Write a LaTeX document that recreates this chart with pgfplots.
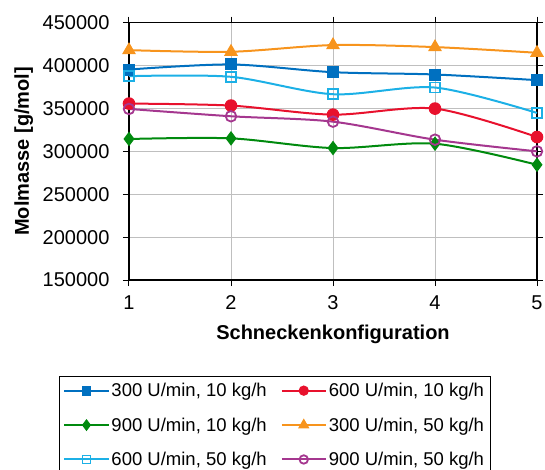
\documentclass[border=0pt]{standalone}
\usepackage{pgfplots}
\pgfplotsset{compat=1.18}
\usepackage{fontspec}
\setmainfont{Liberation Sans}
\definecolor{cDB}{HTML}{0070C0}
\definecolor{cRD}{HTML}{E8112D}
\definecolor{cGN}{HTML}{008A0E}
\definecolor{cOR}{HTML}{F7941D}
\definecolor{cLB}{HTML}{1CB0E6}
\definecolor{cPU}{HTML}{A5378F}
\begin{document}
\begin{tikzpicture}[x=1pt,y=1pt]
\begin{axis}[
  scale only axis, width=408pt, height=257.3pt,
  xmin=1, xmax=5, ymin=150000, ymax=450000,
  xtick={1,2,3,4,5},
  ytick={150000,200000,250000,300000,350000,400000,450000},
  scaled y ticks=false,
  /pgf/number format/assume math mode=true,
  yticklabel style={/pgf/number format/fixed, /pgf/number format/1000 sep={}, xshift=-10pt},
  xticklabel style={yshift=-6pt},
  tick label style={font=\fontsize{20}{24}\selectfont, black},
  grid=major, major grid style={black!25, line width=0.8pt},
  axis line style={line width=1.6pt},
  tick style={black, line width=1pt},
  tick align=outside, major tick length=6pt,
  xlabel={Schneckenkonfiguration},
  xlabel style={font=\bfseries\fontsize{20}{24}\selectfont, at={(axis description cs:0.5,-0.212)}, anchor=center},
  ylabel={Molmasse [g/mol]},
  ylabel style={font=\bfseries\fontsize{20}{24}\selectfont, at={(axis description cs:-0.258,0.5)}, anchor=center},
  clip=false,
  legend columns=2,
  legend cell align=left,
  legend style={at={(axis description cs:-0.1716,-0.372)}, anchor=north west,
    font=\fontsize{18.5}{22}\selectfont, draw=black, line width=1pt,
    inner xsep=4pt, inner ysep=5pt, row sep=15.5pt,
    /tikz/every even column/.append style={column sep=12pt}},
  legend image code/.code={\draw[mark repeat=2,mark phase=2,#1,every mark/.append style={scale=0.8}] plot coordinates {(0pt,0pt) (22pt,0pt) (44pt,0pt)};},
  every axis plot/.append style={line width=2pt, smooth, tension=0.5},
]
\addplot[cDB, mark=square*, mark size=5.5pt, mark options={solid, line width=1pt, fill=cDB}] coordinates {(1,395400) (2,401300) (3,392300) (4,389600) (5,383000)};
\addlegendentry{300 U/min, 10 kg/h}
\addplot[cRD, mark=*, mark size=5.8pt, mark options={solid, line width=1pt, fill=cRD}] coordinates {(1,355700) (2,353350) (3,342800) (4,349850) (5,316700)};
\addlegendentry{600 U/min, 10 kg/h}
\addplot[cGN, mark=diamond*, mark size=6.5pt, mark options={solid, line width=1pt, fill=cGN}] coordinates {(1,314400) (2,315150) (3,303850) (4,308900) (5,284350)};
\addlegendentry{900 U/min, 10 kg/h}
\addplot[cOR, mark=triangle*, mark size=7pt, mark options={solid, line width=1pt, fill=cOR}] coordinates {(1,418000) (2,416100) (3,423900) (4,421550) (5,414900)};
\addlegendentry{300 U/min, 50 kg/h}
\addplot[cLB, mark=square, mark size=5pt, mark options={solid, line width=1.8pt, fill=white}] coordinates {(1,387650) (2,386900) (3,366600) (4,374400) (5,344800)};
\addlegendentry{600 U/min, 50 kg/h}
\addplot[cPU, mark=o, mark size=5.3pt, mark options={solid, line width=1.8pt, fill=white}] coordinates {(1,349450) (2,340900) (3,334600) (4,313600) (5,300000)};
\addlegendentry{900 U/min, 50 kg/h}
\coordinate (bl) at (rel axis cs:0,0);
\end{axis}
\pgfresetboundingbox
\path ([shift={(-129pt,-190pt)}]bl) rectangle ++(545pt,470pt);
\end{tikzpicture}
\end{document}
